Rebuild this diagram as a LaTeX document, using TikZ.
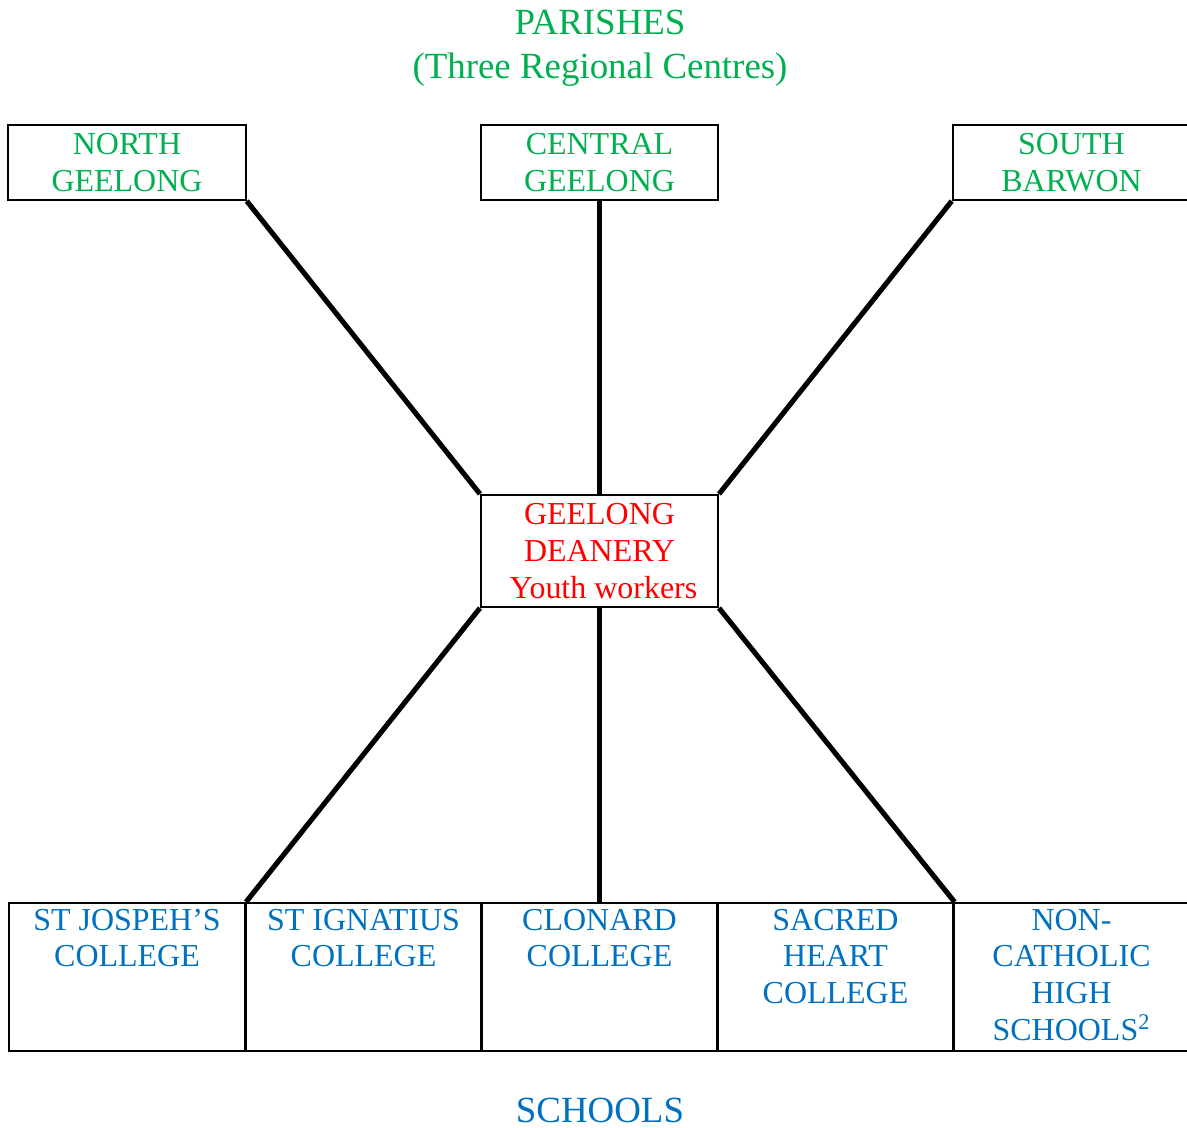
\documentclass[tikz,border=0pt]{standalone}
\usepackage{fontspec}
\setmainfont{Liberation Serif}
\usetikzlibrary{positioning}

\definecolor{parishgreen}{RGB}{0,176,80}
\definecolor{deanred}{RGB}{255,0,0}
\definecolor{schoolblue}{RGB}{0,112,192}

\begin{document}
\begin{tikzpicture}[x=0.02cm, y=-0.02cm,
    box/.style={draw, line width=1.2pt, inner sep=0pt},
    boxtext/.style={align=center, font=\fontsize{18.2}{21}\selectfont},
    heading/.style={align=center, inner sep=0pt, font=\fontsize{21}{24.5}\selectfont},
    parish/.style={box, boxtext, text=parishgreen, minimum width=4.75cm, minimum height=1.5cm},
    school/.style={box, minimum width=4.72cm, minimum height=2.96cm},
    schooltext/.style={boxtext, inner sep=0pt, text=schoolblue},
    link/.style={line width=2.9pt}]
    \useasboundingbox (0,0) rectangle (1187,1127);

    % Heading for parishes
    \node[heading, text=parishgreen, anchor=base] (parishes) at (600,78) {PARISHES\\(Three Regional Centres)};

    % Parishes
    \node[parish] (northgeelong) at (127,162.5) {NORTH\\GEELONG};
    \node[parish] (centralgeelong) at (599.5,162.5) {CENTRAL\\GEELONG};
    \node[parish] (southbarwon) at (1071.5,162.5) {SOUTH\\BARWON};

    % Deanery
    \node[box, boxtext, text=deanred, minimum width=4.74cm, minimum height=2.24cm] (deanery) at (599.5,551) {GEELONG\\DEANERY\\~Youth workers};

    % Schools
    \node[school] (stjoseph) at (127,977) {};
    \node[school] (stignatius) at (363.5,977) {};
    \node[school] (clonard) at (599.5,977) {};
    \node[school] (sacredheart) at (835.5,977) {};
    \node[school] (noncatholic) at (1071.5,977) {};

    \node[schooltext, below=0.13cm of stjoseph.north] (stjosephtext) {ST JOSPEH’S\\COLLEGE};
    \node[schooltext, below=0.13cm of stignatius.north] (stignatiustext) {ST IGNATIUS\\COLLEGE};
    \node[schooltext, below=0.13cm of clonard.north] (clonardtext) {CLONARD\\COLLEGE};
    \node[schooltext, below=0.13cm of sacredheart.north] (sacredhearttext) {SACRED\\HEART\\COLLEGE};
    \node[schooltext, below=0.13cm of noncatholic.north] (noncatholictext) {NON-\\CATHOLIC\\HIGH\\SCHOOLS\textsuperscript{2}};

    % Heading for schools
    \node[heading, text=schoolblue, anchor=base] (schools) at (600,1122) {SCHOOLS};

    % Links to the deanery
    \draw[link] (northgeelong.south east) -- (deanery.north west);
    \draw[link] (centralgeelong.south) -- (deanery.north);
    \draw[link] (southbarwon.south west) -- (deanery.north east);
    \draw[link] (deanery.south west) -- (stjoseph.north east);
    \draw[link] (deanery.south) -- (clonard.north);
    \draw[link] (deanery.south east) -- (sacredheart.north east);

\end{tikzpicture}
\end{document}
